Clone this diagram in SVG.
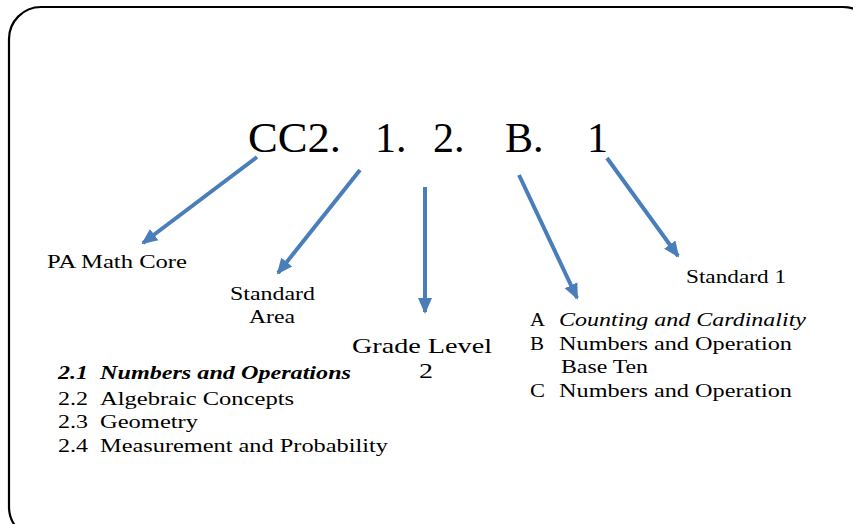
<svg xmlns="http://www.w3.org/2000/svg" width="853" height="524" viewBox="0 0 853 524">
<defs>
<style>
.t{font-family:"Liberation Serif","Times New Roman",serif;fill:#000;}
.s{font-size:18.5px;}
.a{stroke:#4a7ebb;stroke-width:4;fill:none;marker-end:url(#ah);}
</style>
<marker id="ah" markerUnits="userSpaceOnUse" markerWidth="16" markerHeight="16" viewBox="0 0 16 16" refX="14" refY="8" orient="auto">
<path d="M0,1 L16,8 L0,15 Z" fill="#4a7ebb"/>
</marker>
</defs>
<rect x="9" y="7" width="866" height="532" rx="32" fill="#fff" stroke="#000" stroke-width="2.2"/>
<g id="code">
<text class="t" font-size="42" x="248" y="152" textLength="93" lengthAdjust="spacingAndGlyphs">CC2.</text>
<text class="t" font-size="42" x="375" y="152">1.</text>
<text class="t" font-size="42" x="433" y="152">2.</text>
<text class="t" font-size="42" x="505" y="152">B.</text>
<text class="t" font-size="42" x="587" y="152">1</text>
</g>
<g id="connectors">
<line class="a" x1="257" y1="157" x2="143" y2="243"/>
<line class="a" x1="360" y1="170" x2="278" y2="273"/>
<line class="a" x1="425" y1="187" x2="425" y2="312"/>
<line class="a" x1="519" y1="175" x2="577" y2="298"/>
<line class="a" x1="607" y1="158" x2="678" y2="256"/>
</g>
<g id="pa-math-core">
<text class="t s" x="47" y="268" textLength="140" lengthAdjust="spacingAndGlyphs">PA Math Core</text>
</g>
<g id="standard-area">
<text class="t s" x="230" y="300" textLength="85" lengthAdjust="spacingAndGlyphs">Standard</text>
<text class="t s" x="249" y="323" textLength="46" lengthAdjust="spacingAndGlyphs">Area</text>
</g>
<g id="grade-level">
<text class="t" font-size="22" x="352" y="353" textLength="140" lengthAdjust="spacingAndGlyphs">Grade Level</text>
<text class="t" font-size="22" x="419" y="378" textLength="14" lengthAdjust="spacingAndGlyphs">2</text>
</g>
<g id="standard-1">
<text class="t s" x="686" y="283" textLength="100" lengthAdjust="spacingAndGlyphs">Standard 1</text>
</g>
<g id="areas-list">
<text class="t s" x="58" y="379" font-weight="bold" font-style="italic" textLength="30" lengthAdjust="spacingAndGlyphs">2.1</text>
<text class="t s" x="100" y="379" font-weight="bold" font-style="italic" textLength="251" lengthAdjust="spacingAndGlyphs">Numbers and Operations</text>
<text class="t s" x="58" y="405" textLength="30" lengthAdjust="spacingAndGlyphs">2.2</text>
<text class="t s" x="100" y="405" textLength="194" lengthAdjust="spacingAndGlyphs">Algebraic Concepts</text>
<text class="t s" x="58" y="428" textLength="30" lengthAdjust="spacingAndGlyphs">2.3</text>
<text class="t s" x="100" y="428" textLength="98" lengthAdjust="spacingAndGlyphs">Geometry</text>
<text class="t s" x="58" y="452" textLength="30" lengthAdjust="spacingAndGlyphs">2.4</text>
<text class="t s" x="100" y="452" textLength="288" lengthAdjust="spacingAndGlyphs">Measurement and Probability</text>
</g>
<g id="domains-list">
<text class="t s" x="530" y="326" textLength="15" lengthAdjust="spacingAndGlyphs">A</text>
<text class="t s" x="559" y="326" font-style="italic" textLength="247" lengthAdjust="spacingAndGlyphs">Counting and Cardinality</text>
<text class="t s" x="530" y="350" textLength="14" lengthAdjust="spacingAndGlyphs">B</text>
<text class="t s" x="559" y="350" textLength="233" lengthAdjust="spacingAndGlyphs">Numbers and Operation</text>
<text class="t s" x="561" y="373" textLength="87" lengthAdjust="spacingAndGlyphs">Base Ten</text>
<text class="t s" x="530" y="397" textLength="15" lengthAdjust="spacingAndGlyphs">C</text>
<text class="t s" x="559" y="397" textLength="233" lengthAdjust="spacingAndGlyphs">Numbers and Operation</text>
</g>
</svg>
